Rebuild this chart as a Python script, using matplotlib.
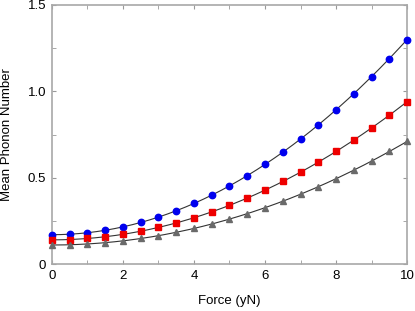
import matplotlib.pyplot as plt
import numpy as np
from matplotlib.ticker import MultipleLocator

plt.rcParams['font.family'] = ['Liberation Sans', 'DejaVu Sans']

force = np.arange(0, 10.01, 0.5)

blue_vals = [0.170, 0.173, 0.181, 0.195, 0.215, 0.241, 0.272, 0.308, 0.351, 0.399, 0.453,
             0.512, 0.577, 0.647, 0.724, 0.806, 0.893, 0.986, 1.085, 1.190, 1.300]
red_vals = [0.140, 0.142, 0.148, 0.158, 0.172, 0.190, 0.212, 0.238, 0.268, 0.302, 0.340,
            0.382, 0.428, 0.478, 0.532, 0.590, 0.652, 0.718, 0.788, 0.862, 0.940]
gray_vals = [0.110, 0.112, 0.116, 0.124, 0.134, 0.148, 0.164, 0.184, 0.206, 0.232, 0.260,
             0.292, 0.326, 0.364, 0.404, 0.448, 0.494, 0.544, 0.596, 0.652, 0.710]

fig = plt.figure(figsize=(4.15, 3.11), dpi=100)
ax = fig.add_axes([0.125, 0.151, 0.856, 0.833])

xs = np.linspace(0, 10, 200)
series = [(blue_vals, '#0000ee', 'o', 4.6),
          (red_vals, '#ee0000', 's', 4.4),
          (gray_vals, '#6a6a6a', '^', 4.4)]
for vals, col, mk, ms in series:
    coef = np.polyfit(force, vals, 2)
    ax.plot(xs, np.polyval(coef, xs), color='#333333', lw=0.8, zorder=2)
    ax.plot(force, vals, mk, color=col, ms=ms, mec=col, zorder=3, clip_on=False)

ax.set_xlim(0, 10)
ax.set_ylim(0, 1.5)
ax.xaxis.set_major_locator(MultipleLocator(2))
ax.xaxis.set_minor_locator(MultipleLocator(1))
ax.yaxis.set_minor_locator(MultipleLocator(0.25))
ax.set_yticks([0, 0.5, 1.0, 1.5])
ax.set_yticklabels(['0', '0.5', '1.0', '1.5'])

for s in ax.spines.values():
    s.set_color('#a8a8a8')
    s.set_linewidth(1.2)
ax.tick_params(which='both', direction='in', top=True, right=True,
               color='#999999', labelsize=9.5, pad=4)
ax.tick_params(which='major', length=3)
ax.tick_params(which='minor', length=3)

ax.set_xlabel('Force (yN)', fontsize=9.5, labelpad=10)
ax.set_ylabel('Mean Phonon Number', fontsize=9.5, labelpad=11)

fig.savefig('out.png', dpi=100)
